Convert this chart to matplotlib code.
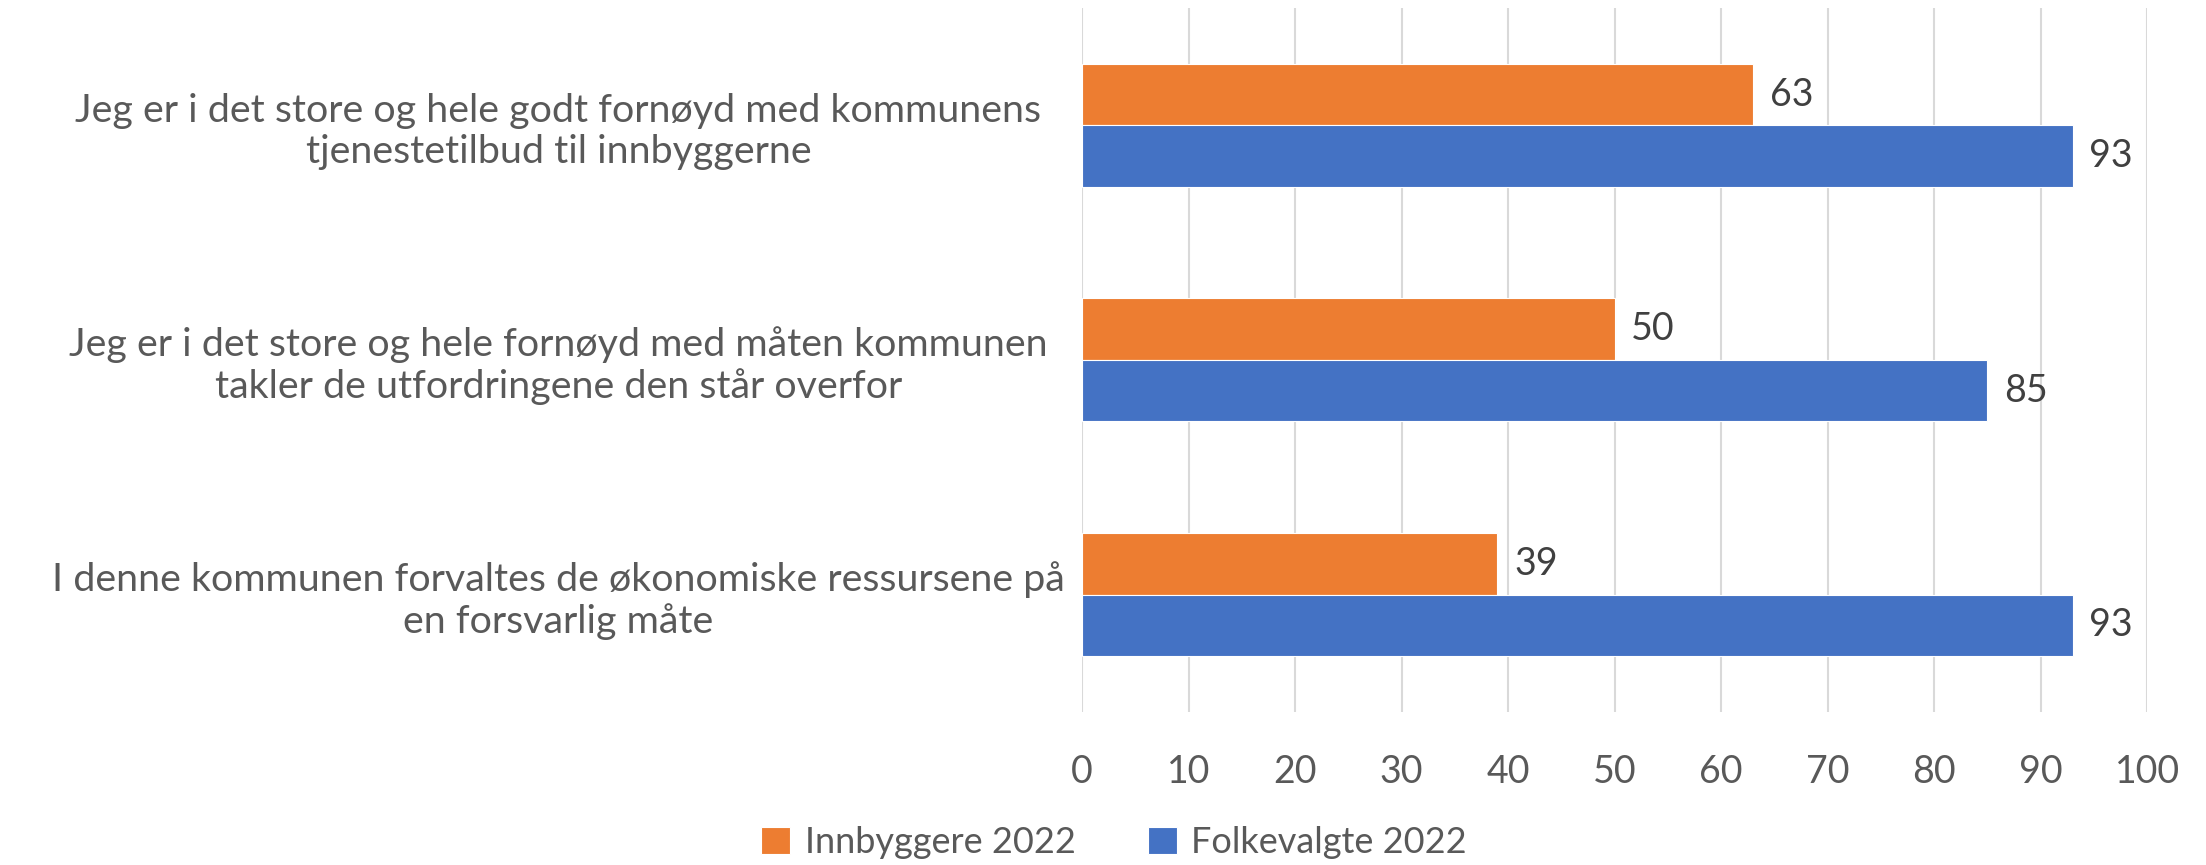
import matplotlib
matplotlib.use("Agg")
import matplotlib.pyplot as plt
import numpy as np

categories = [
    "Jeg er i det store og hele godt fornøyd med kommunens\ntjenestetilbud til innbyggerne",
    "Jeg er i det store og hele fornøyd med måten kommunen\ntakler de utfordringene den står overfor",
    "I denne kommunen forvaltes de økonomiske ressursene på\nen forsvarlig måte",
]
innbyggere = [63, 50, 39]
folkevalgte = [93, 85, 93]
series_names = ["Innbyggere 2022", "Folkevalgte 2022"]
xticks = [0, 10, 20, 30, 40, 50, 60, 70, 80, 90, 100]

plt.rcParams['font.family'] = ['Lato', 'DejaVu Sans']

fig = plt.figure(figsize=(22.06, 8.65), dpi=100)
ax = fig.add_axes([0.4905, 0.1769, 0.4828, 0.8139])

y = np.arange(len(categories))
h = 0.262
orange = "#ED7D31"
blue = "#4472C4"
b1 = ax.barh(y - h / 2, innbyggere, height=h, color=orange, label=series_names[0], zorder=3,
             edgecolor="white", linewidth=0.8)
b2 = ax.barh(y + h / 2, folkevalgte, height=h, color=blue, label=series_names[1], zorder=3,
             edgecolor="white", linewidth=0.8)

for bars in (b1, b2):
    ax.bar_label(bars, padding=12, fontsize=27, color="#404040")

ax.set_xlim(0, 100)
ax.set_ylim(len(categories) - 0.5, -0.5)
ax.set_xticks(xticks)
ax.set_xticklabels([str(t) for t in xticks], fontsize=27, color="#595959")
ax.set_yticks(y)
ax.set_yticklabels(categories, fontsize=28.4, color="#595959", ha="center", linespacing=1.17)
ax.tick_params(axis="y", length=0, pad=377)
ax.tick_params(axis="x", length=0, pad=30)
ax.grid(axis="x", color="#D9D9D9", linewidth=1.5, zorder=0)
for s in ax.spines.values():
    s.set_visible(False)

leg = fig.legend(handles=[b1, b2], labels=series_names, loc="center", bbox_to_anchor=(0.505, 0.026),
                 ncol=2, frameon=False, fontsize=26, handlelength=0.8, handleheight=0.8,
                 handletextpad=0.4, columnspacing=2.0, labelcolor="#595959")

fig.savefig("out.png", dpi=100)
